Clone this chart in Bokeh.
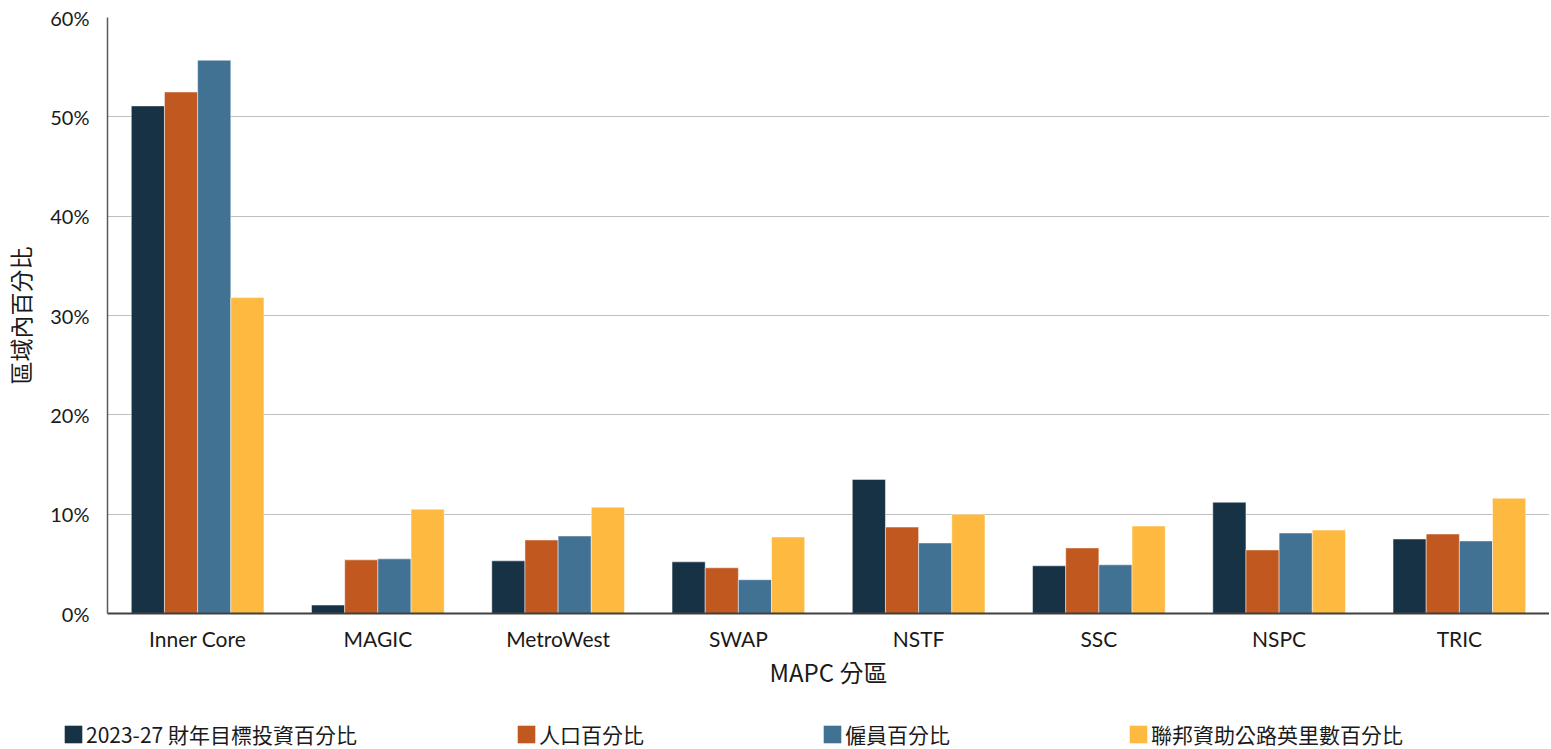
from bokeh.plotting import figure
from bokeh.layouts import column, row
from bokeh.models import ColumnDataSource, FactorRange, NumeralTickFormatter, Legend, LegendItem, Range1d
from bokeh.transform import dodge
from bokeh.embed import file_html
from bokeh.resources import INLINE

regions = ["Inner Core", "MAGIC", "MetroWest", "SWAP", "NSTF", "SSC", "NSPC", "TRIC"]
invest = [0.511, 0.0085, 0.053, 0.052, 0.135, 0.048, 0.112, 0.075]
population = [0.525, 0.054, 0.074, 0.046, 0.087, 0.066, 0.064, 0.080]
employment = [0.557, 0.055, 0.078, 0.034, 0.071, 0.049, 0.081, 0.073]
fed_miles = [0.318, 0.105, 0.107, 0.077, 0.100, 0.088, 0.084, 0.116]

series_names = ["2023-27 財年目標投資百分比", "人口百分比", "僱員百分比", "聯邦資助公路英里數百分比"]
colors = ["#183245", "#c0581f", "#417193", "#fdb940"]

src = ColumnDataSource(dict(x=regions, a=invest, b=population, c=employment, d=fed_miles))

p = figure(x_range=FactorRange(*regions, range_padding=0), y_range=Range1d(0, 0.6),
           width=1549, height=712, output_backend="svg", toolbar_location=None,
           min_border_left=106, min_border_right=0, min_border_top=17, min_border_bottom=99)

cols = ["a", "b", "c", "d"]
offs = [-0.276, -0.092, 0.092, 0.276]
for col, off, color in zip(cols, offs, colors):
    p.vbar(x=dodge("x", off, range=p.x_range), top=col, width=0.184, source=src,
           fill_color=color, line_color="white", line_width=0.8, line_alpha=0.6)

p.outline_line_color = None
p.xgrid.grid_line_color = None
p.ygrid.grid_line_color = "#bfbfbf"
p.ygrid.grid_line_width = 1.2

p.yaxis.ticker = [0, 0.1, 0.2, 0.3, 0.4, 0.5, 0.6]
p.yaxis.formatter = NumeralTickFormatter(format="0%")
p.yaxis.major_tick_line_color = None
p.yaxis.minor_tick_line_color = None
p.yaxis.axis_line_color = "#595959"
p.yaxis.axis_line_width = 1.5
p.yaxis.major_label_standoff = 12
p.yaxis.major_label_text_font = "Lato"
p.yaxis.major_label_text_font_size = "20px"
p.yaxis.major_label_text_color = "#1a1a1a"
p.yaxis.axis_label = "區域內百分比"
p.yaxis.axis_label_text_font = "Noto Sans CJK TC"
p.yaxis.axis_label_text_font_size = "23px"
p.yaxis.axis_label_text_font_style = "normal"
p.yaxis.axis_label_text_color = "#1a1a1a"
p.yaxis.axis_label_standoff = 10

p.xaxis.major_tick_line_color = None
p.xaxis.axis_line_color = "#404040"
p.xaxis.axis_line_width = 2
p.xaxis.major_label_standoff = 6
p.xaxis.major_label_text_font = "Lato"
p.xaxis.major_label_text_font_size = "21px"
p.xaxis.major_label_text_color = "#1a1a1a"
p.xaxis.axis_label = "MAPC 分區"
p.xaxis.axis_label_text_font = "Noto Sans CJK TC"
p.xaxis.axis_label_text_font_size = "24px"
p.xaxis.axis_label_text_font_style = "normal"
p.xaxis.axis_label_text_color = "#1a1a1a"
p.xaxis.axis_label_standoff = 0

# legend strip below the chart
lf = figure(width=1549, height=37, output_backend="svg", toolbar_location=None,
            x_range=Range1d(0, 1), y_range=Range1d(0, 1),
            min_border_left=0, min_border_right=0, min_border_top=0, min_border_bottom=0)
lf.axis.visible = False
lf.grid.grid_line_color = None
lf.outline_line_color = None
items = []
for name, color in zip(series_names, colors):
    r = lf.vbar(x=[5], top=[1], width=0.1, fill_color=color, line_color=None)
    items.append(LegendItem(label=name, renderers=[r]))
legend = Legend(items=items, orientation="horizontal", location=(62, 0),
                label_text_font="Noto Sans CJK TC", label_text_font_size="21px",
                label_text_color="#1a1a1a", glyph_width=22, glyph_height=22,
                label_standoff=2, label_width=124, spacing=158, padding=0, margin=0,
                border_line_color=None, background_fill_alpha=0)
lf.add_layout(legend, "center")

layout = column(p, row(lf), spacing=0)
open("out.html", "w").write(file_html(layout, INLINE))
